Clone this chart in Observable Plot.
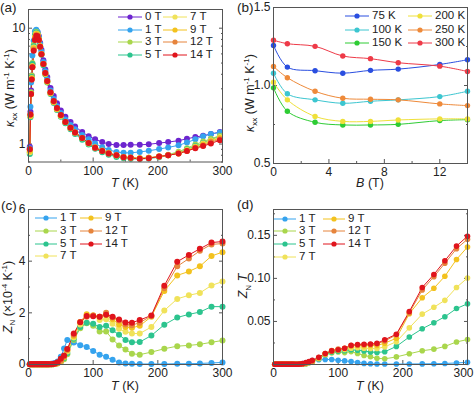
<!DOCTYPE html>
<html><head><meta charset="utf-8">
<script src="https://cdn.jsdelivr.net/npm/d3@7"></script>
<script src="https://cdn.jsdelivr.net/npm/@observablehq/plot@0.6"></script>
<style>
body{margin:0;background:#fff;font-family:"Liberation Sans",Arial,sans-serif;color:#222;}
#root{position:relative;width:474px;height:393px;overflow:hidden;background:#fff;}
.t{position:absolute;white-space:nowrap;font-size:12.5px;line-height:1;}
.yl{transform:translate(-50%,-50%) rotate(-90deg);}
.xl{transform:translate(-50%,-50%);}
.t sub,.t sup{font-size:8px;}
.leg{position:absolute;font-size:11.5px;line-height:1;white-space:nowrap;display:flex;align-items:center;}
.leg svg{margin-right:3px;}
</style></head>
<body><div id="root"></div>
<script>
// ---------- Panel (a): kappa_xx vs T, log scale ----------
const aT = [2,3,4,5,6,8,10,12,14,16,18,20,23,26,29,34,39,44,50,57,65,72,83,93,103,114,124,136,147,158,172,186,202,216,232,245,258,270,282,296];
const aNames = ["0 T","1 T","3 T","5 T","7 T","9 T","12 T","14 T"];
const aColors = ["#6d25cf","#35a3ee","#a9d64c","#2cc48e","#f0e25a","#f3c21e","#e6843c","#e0141c"];
const a0 = [0.95,1.9,2.9,3.9,4.9,6.8,8.4,9.3,9.2,8.5,7.5,6.5,5.3,4.4,3.8,3.05,2.6,2.25,1.95,1.72,1.55,1.42,1.27,1.17,1.1,1.04,1.0,0.98,0.98,0.985,0.985,0.995,1.02,1.04,1.07,1.11,1.15,1.18,1.22,1.27];
const a1 = [0.92,2.1,3.4,4.6,5.8,7.8,9.4,9.7,9.3,8.4,7.3,6.3,5.1,4.25,3.6,2.9,2.45,2.12,1.85,1.63,1.46,1.34,1.2,1.1,1.01,0.94,0.89,0.855,0.84,0.84,0.855,0.875,0.905,0.935,0.975,1.03,1.1,1.17,1.22,1.26];
const a3 = [0.85,1.75,2.8,3.9,5.0,7.2,8.8,9.3,9.0,8.1,7.0,6.0,4.9,4.05,3.45,2.75,2.3,2.0,1.74,1.53,1.36,1.24,1.11,1.0,0.92,0.86,0.82,0.785,0.765,0.755,0.75,0.76,0.78,0.81,0.86,0.92,0.99,1.05,1.11,1.18];
const a5 = [0.82,1.7,2.7,3.8,4.9,7.0,8.7,9.2,8.9,8.0,6.9,5.9,4.8,3.98,3.4,2.7,2.26,1.97,1.72,1.51,1.34,1.22,1.09,0.99,0.91,0.85,0.81,0.775,0.755,0.745,0.745,0.75,0.77,0.8,0.84,0.9,0.96,1.02,1.09,1.16];
const a7 = [0.85,1.75,2.7,3.7,4.7,6.8,8.4,9.0,8.8,8.0,7.0,6.0,4.9,4.05,3.45,2.75,2.3,2.0,1.75,1.54,1.37,1.25,1.12,1.01,0.93,0.87,0.83,0.795,0.77,0.76,0.755,0.76,0.78,0.8,0.84,0.89,0.95,1.01,1.08,1.15];
const a9 = [0.87,1.75,2.7,3.7,4.7,6.7,8.3,8.9,8.8,8.0,7.0,6.0,4.9,4.05,3.45,2.76,2.31,2.01,1.76,1.55,1.38,1.26,1.13,1.02,0.94,0.88,0.84,0.8,0.775,0.765,0.755,0.76,0.78,0.8,0.83,0.88,0.94,0.99,1.06,1.13];
const a12 = [0.9,1.8,2.7,3.6,4.6,6.5,8.1,8.7,8.6,7.9,6.9,5.95,4.9,4.1,3.5,2.78,2.33,2.03,1.77,1.55,1.38,1.26,1.13,1.02,0.93,0.87,0.835,0.8,0.77,0.76,0.75,0.76,0.78,0.8,0.83,0.87,0.93,0.97,1.04,1.1];
const a14 = [0.9,1.8,2.7,3.6,4.6,6.4,7.9,8.6,8.5,7.9,6.9,5.95,4.9,4.1,3.5,2.8,2.35,2.05,1.78,1.55,1.38,1.26,1.13,1.02,0.93,0.87,0.83,0.8,0.77,0.76,0.745,0.755,0.78,0.8,0.83,0.87,0.92,0.96,1.01,1.08];
const aXMajor = [0,100,200,300], aXMinor = [50,150,250];
const aYMajor = [1,10], aYMinor = [0.7,0.8,0.9,2,3,4,5,6,7,8,9];

// ---------- Panel (b): kappa_xx vs B ----------
const bB = [0,1,3,5,7,9,12,14];
const bNames = ["75 K","100 K","150 K","200 K","250 K","300 K"];
const bColors = ["#2a4ee0","#3cc6d0","#2ecc34","#efe03a","#ee8a3a","#ee3a48"];
const b75 = [1.257,1.118,1.095,1.079,1.097,1.105,1.135,1.165];
const b100 = [1.079,0.947,0.908,0.886,0.899,0.908,0.929,0.963];
const b150 = [0.985,0.835,0.764,0.747,0.747,0.751,0.775,0.781];
const b200 = [1.021,0.908,0.802,0.770,0.770,0.779,0.786,0.786];
const b250 = [1.122,1.05,0.963,0.918,0.912,0.908,0.882,0.871];
const b300 = [1.29,1.268,1.251,1.189,1.172,1.146,1.124,1.09];
const bXMajor = [0,4,8,12], bXMinor = [2,6,10,14];
const bYMajor = [0.5,1.0,1.5], bYMinor = [0.75,1.25];

// ---------- Panels (c),(d): Z_N and Z_N T vs T ----------
const cT = [2,4,6,8,10,12,14,16,18,20,22,24,26,28,30,32,35,38,41,45,50,55,60,70,80,90,100,110,120,130,140,150,160,172,190,210,230,248,265,283,300];
const cNames = ["1 T","3 T","5 T","7 T","9 T","12 T","14 T"];
const cColors = ["#35a3ee","#a9d64c","#2cc48e","#f0e25a","#f3c21e","#e6843c","#e0141c"];
const c1 = [0.02,0.02,0.02,0.02,0.02,0.02,0.02,0.02,0.02,0.02,0.02,0.02,0.02,0.02,0.02,0.02,0.03,0.04,0.06,0.12,0.3,0.62,0.95,0.85,0.75,0.68,0.52,0.38,0.3,0.18,0.08,0.04,0.03,0.02,0.02,0.02,0.03,0.03,0.04,0.06,0.08];
const c3 = [0.01,0.01,0.01,0.01,0.01,0.01,0.01,0.01,0.01,0.01,0.01,0.01,0.01,0.01,0.01,0.01,0.01,0.01,0.02,0.05,0.1,0.2,0.4,0.95,1.4,1.6,1.5,1.28,1.28,0.97,0.74,0.58,0.42,0.38,0.48,0.61,0.71,0.74,0.78,0.86,0.93];
const c5 = [0.01,0.01,0.01,0.01,0.01,0.01,0.01,0.01,0.01,0.01,0.01,0.01,0.01,0.01,0.01,0.01,0.01,0.01,0.02,0.05,0.12,0.25,0.45,1.0,1.45,1.62,1.58,1.45,1.5,1.33,1.15,0.95,0.86,0.87,1.12,1.54,1.82,1.94,2.03,2.24,2.24];
const c7 = [0.01,0.01,0.01,0.01,0.01,0.01,0.01,0.01,0.01,0.01,0.01,0.01,0.01,0.01,0.01,0.01,0.01,0.01,0.02,0.05,0.13,0.28,0.5,1.05,1.55,1.9,1.9,1.72,1.75,1.58,1.38,1.27,1.2,1.2,1.45,2.09,2.54,2.68,2.77,3.06,3.21];
const c9 = [0.01,0.01,0.01,0.01,0.01,0.01,0.01,0.01,0.01,0.01,0.01,0.01,0.01,0.01,0.01,0.01,0.01,0.01,0.02,0.05,0.14,0.3,0.55,1.1,1.65,1.95,1.9,1.85,1.92,1.75,1.55,1.45,1.42,1.5,1.85,2.85,3.45,3.6,3.8,4.2,4.35];
const c12 = [0.01,0.01,0.01,0.01,0.01,0.01,0.01,0.01,0.01,0.01,0.01,0.01,0.01,0.01,0.01,0.01,0.01,0.02,0.03,0.06,0.15,0.3,0.57,1.15,1.65,1.85,1.9,1.85,2.0,1.82,1.7,1.55,1.52,1.62,1.88,2.95,3.8,4.1,4.4,4.65,4.68];
const c14 = [0.01,0.01,0.01,0.01,0.01,0.01,0.01,0.01,0.01,0.01,0.01,0.01,0.01,0.01,0.01,0.01,0.01,0.02,0.04,0.09,0.22,0.35,0.6,1.2,1.64,1.88,1.87,1.85,1.93,1.85,1.74,1.63,1.62,1.72,1.9,3.05,3.98,4.24,4.48,4.72,4.76];
const cXMajor = [0,100,200,300], cXMinor = [50,150,250];
const cYMajor = [0,2,4,6], cYMinor = [1,3,5];

const d1 = [0.0003,0.0003,0.0003,0.0003,0.0003,0.0003,0.0003,0.0003,0.0003,0.0003,0.0003,0.0003,0.0003,0.0003,0.0003,0.0003,0.0003,0.0003,0.0005,0.001,0.0018,0.003,0.0045,0.0056,0.0058,0.0058,0.005,0.0042,0.0035,0.0024,0.0013,0.0008,0.0006,0.0005,0.0005,0.0006,0.0007,0.0009,0.0012,0.0018,0.0025];
const d3 = [0.0003,0.0003,0.0003,0.0003,0.0003,0.0003,0.0003,0.0003,0.0003,0.0003,0.0003,0.0003,0.0003,0.0003,0.0003,0.0003,0.0003,0.0003,0.0003,0.0005,0.001,0.002,0.003,0.0065,0.011,0.0135,0.0145,0.0138,0.015,0.0128,0.0105,0.009,0.0072,0.0066,0.0088,0.0125,0.016,0.0178,0.021,0.0262,0.029];
const d5 = [0.0003,0.0003,0.0003,0.0003,0.0003,0.0003,0.0003,0.0003,0.0003,0.0003,0.0003,0.0003,0.0003,0.0003,0.0003,0.0003,0.0003,0.0003,0.0003,0.0005,0.001,0.002,0.003,0.007,0.0115,0.0145,0.0155,0.016,0.0172,0.0165,0.0158,0.0145,0.014,0.0148,0.021,0.032,0.0415,0.0485,0.0555,0.065,0.0705];
const d7 = [0.0003,0.0003,0.0003,0.0003,0.0003,0.0003,0.0003,0.0003,0.0003,0.0003,0.0003,0.0003,0.0003,0.0003,0.0003,0.0003,0.0003,0.0003,0.0003,0.0005,0.0012,0.0022,0.0032,0.0072,0.012,0.0155,0.017,0.0175,0.019,0.0195,0.019,0.0185,0.0185,0.0205,0.0265,0.0425,0.0585,0.0665,0.0745,0.0895,0.1005];
const d9 = [0.0003,0.0003,0.0003,0.0003,0.0003,0.0003,0.0003,0.0003,0.0003,0.0003,0.0003,0.0003,0.0003,0.0003,0.0003,0.0003,0.0003,0.0003,0.0003,0.0005,0.0012,0.0022,0.0034,0.0075,0.0125,0.0158,0.0172,0.0185,0.0215,0.022,0.0218,0.022,0.022,0.0248,0.0305,0.059,0.0775,0.0885,0.1025,0.122,0.1365];
const d12 = [0.0003,0.0003,0.0003,0.0003,0.0003,0.0003,0.0003,0.0003,0.0003,0.0003,0.0003,0.0003,0.0003,0.0003,0.0003,0.0003,0.0003,0.0003,0.0004,0.0008,0.0015,0.0028,0.0038,0.008,0.0128,0.0162,0.0178,0.0188,0.022,0.0225,0.0228,0.0232,0.024,0.0272,0.0345,0.06,0.0865,0.102,0.1175,0.1345,0.1455];
const d14 = [0.0003,0.0003,0.0003,0.0003,0.0003,0.0003,0.0003,0.0003,0.0003,0.0003,0.0003,0.0003,0.0003,0.0003,0.0003,0.0003,0.0003,0.0003,0.0005,0.001,0.0022,0.0035,0.0048,0.0085,0.0128,0.0158,0.0172,0.0188,0.0222,0.0232,0.0235,0.0238,0.0245,0.0288,0.0352,0.0615,0.0895,0.1045,0.1205,0.1375,0.149];
const dXMajor = [0,100,200,300], dXMinor = [50,150,250];
const dYMajor = [0.05,0.10,0.15], dYMinor = [0.025,0.075,0.125,0.175];

// ---------- helpers ----------
const root = document.getElementById("root");
const FONT = '"Liberation Sans", Arial, sans-serif';
function rowsOf(xs, names, arrs){
  return names.flatMap((n,k)=>arrs[k].map((v,i)=>({x:xs[i], y:v, s:n})));
}
function panel(cfg){
  const rows = rowsOf(cfg.xs, cfg.names, cfg.series);
  const fmtY = cfg.yFormat, fmtX = cfg.xFormat || (d=>String(d));
  const nx = cfg.xMajor.length;
  const xMain = cfg.lastDx ? cfg.xMajor.slice(0, nx-1) : cfg.xMajor;
  const marks = [
    Plot.axisX(xMain, {anchor:"bottom", tickSize:-4, tickPadding:8, tickFormat: fmtX, label:null, stroke:"#555"}),
    Plot.axisX(cfg.xMinor, {anchor:"bottom", tickSize:-2, tickFormat: ()=> "", label:null, stroke:"#555"}),
    Plot.axisY(cfg.yMajor, {anchor:"left", tickSize:-4, tickPadding:7, tickFormat: fmtY, label:null, stroke:"#555"}),
    Plot.axisY(cfg.yMinor, {anchor:"left", tickSize:-2, tickFormat: ()=> "", label:null, stroke:"#555"}),
    Plot.axisY(cfg.yMajor, {anchor:"right", tickSize:-4, tickFormat: ()=> "", label:null, stroke:"#555"}),
    Plot.axisY(cfg.yMinor, {anchor:"right", tickSize:-2, tickFormat: ()=> "", label:null, stroke:"#555"}),
    Plot.line(rows, {x:"x", y:"y", z:"s", stroke:"s", strokeWidth:1, curve: cfg.curve || "linear"}),
    Plot.dot(rows, {x:"x", y:"y", fill:"s", r: cfg.r}),
    Plot.frame({stroke:"#555", strokeWidth:1})
  ];
  if (cfg.lastDx) {
    marks.push(Plot.axisX(cfg.xMajor.slice(nx-1), {anchor:"bottom", tickSize:-4, tickPadding:8, tickFormat: fmtX, label:null, stroke:"#555", dx: cfg.lastDx}));
  }
  const chart = Plot.plot({
    width: cfg.w, height: cfg.h,
    marginLeft: cfg.ml, marginRight: cfg.mr, marginTop: cfg.mt, marginBottom: cfg.mb,
    style: {fontFamily: FONT, fontSize: "12px", color: "#222", background: "transparent", overflow: "visible"},
    x: {domain: cfg.xDomain},
    y: {domain: cfg.yDomain, type: cfg.yType || "linear"},
    color: {domain: cfg.names, range: cfg.colors},
    marks
  });
  chart.style.position = "absolute";
  chart.style.left = cfg.left + "px";
  chart.style.top = cfg.top + "px";
  root.appendChild(chart);
}
function text(html, x, y, cls, size){
  const d = document.createElement("div");
  d.className = "t " + (cls||"");
  d.innerHTML = html;
  d.style.left = x + "px"; d.style.top = y + "px";
  if (size) d.style.fontSize = size + "px";
  root.appendChild(d);
}
function legend(names, colors, x0s, y0s, perCol, lineW){
  names.forEach((n,i)=>{
    const col = Math.floor(i/perCol), row = i % perCol;
    const d = document.createElement("div");
    d.className = "leg";
    d.style.left = x0s[col] + "px";
    d.style.top = (y0s[row] - 6) + "px";
    d.style.height = "12px";
    const ns = "http://www.w3.org/2000/svg";
    const s = document.createElementNS(ns,"svg");
    s.setAttribute("width", lineW); s.setAttribute("height", 8);
    const l = document.createElementNS(ns,"line");
    l.setAttribute("x1",0); l.setAttribute("x2",lineW); l.setAttribute("y1",4); l.setAttribute("y2",4);
    l.setAttribute("stroke", colors[i]); l.setAttribute("stroke-width",1);
    const c = document.createElementNS(ns,"circle");
    c.setAttribute("cx", lineW/2); c.setAttribute("cy",4); c.setAttribute("r",2.6); c.setAttribute("fill", colors[i]);
    s.appendChild(l); s.appendChild(c); d.appendChild(s);
    const t = document.createElement("span"); t.textContent = n; d.appendChild(t);
    root.appendChild(d);
  });
}
const f1 = d => (+d).toFixed(1), f2 = d => (+d).toFixed(2);

// (a)
panel({left:0, top:0, w:237, h:195, ml:28, mr:15, mt:9, mb:33.5,
  xs:aT, names:aNames, colors:aColors, series:[a0,a1,a3,a5,a7,a9,a12,a14],
  xDomain:[0,300], yDomain:[0.7,14.5], yType:"log",
  xMajor:aXMajor, xMinor:aXMinor, yMajor:aYMajor, yMinor:aYMinor,
  yFormat:d=>String(d), r:3});
// (b)
panel({left:237, top:0, w:237, h:195, ml:36, mr:7, mt:7, mb:32,
  xs:bB, names:bNames, colors:bColors, series:[b75,b100,b150,b200,b250,b300],
  xDomain:[0,14], yDomain:[0.5,1.5],
  xMajor:bXMajor, xMinor:bXMinor, yMajor:bYMajor, yMinor:bYMinor,
  yFormat:f1, r:2.7, curve:"catmull-rom"});
// (c)
panel({left:0, top:195, w:237, h:198, ml:28, mr:15, mt:14, mb:29,
  xs:cT, names:cNames, colors:cColors, series:[c1,c3,c5,c7,c9,c12,c14],
  xDomain:[0,300], yDomain:[0,6],
  xMajor:cXMajor, xMinor:cXMinor, yMajor:cYMajor, yMinor:cYMinor,
  yFormat:d=>String(d), r:3});
// (d)
panel({left:237, top:195, w:237, h:198, ml:36, mr:7, mt:14, mb:29,
  xs:cT, names:cNames, colors:cColors, series:[d1,d3,d5,d7,d9,d12,d14],
  xDomain:[0,300], yDomain:[0,0.18],
  xMajor:dXMajor, xMinor:dXMinor, yMajor:dYMajor, yMinor:dYMinor,
  yFormat:f2, r:2.8, lastDx:-4});

// panel letters
text("(a)", 0, 1, "", 13.5);
text("(b)", 237, 1, "", 13.5);
text("(c)", 1, 199, "", 13.5);
text("(d)", 237, 198, "", 13.5);
// axis titles
text("<i>T</i> (K)", 125, 183, "xl");
text("<i>B</i> (T)", 370, 183, "xl");
text("<i>T</i> (K)", 125, 386, "xl");
text("<i>T</i> (K)", 370, 386, "xl");
text("<i>κ</i><sub>xx</sub> (W m<sup>-1</sup> K<sup>-1</sup>)", 11, 88, "yl");
text("<i>κ</i><sub>xx</sub> (W m<sup>-1</sup> K<sup>-1</sup>)", 251, 93, "yl");
text("<i>Z</i><sub>N</sub> (×10<sup>-4</sup> K<sup>-1</sup>)", 9, 297, "yl");
text("<i>Z</i><sub>N</sub> <i>T</i>", 245, 286, "yl");
// legends
legend(aNames, aColors, [118,163], [16.5,29.5,42,54.5], 4, 24);
legend(bNames, bColors, [345,408], [15.5,29.5,42.5], 3, 24);
legend(cNames, cColors, [35,80], [217.5,230.5,243.5,256], 4, 22);
legend(cNames, cColors, [274,323], [219,231,243.5,256.5], 4, 22);
</script>
</body></html>
